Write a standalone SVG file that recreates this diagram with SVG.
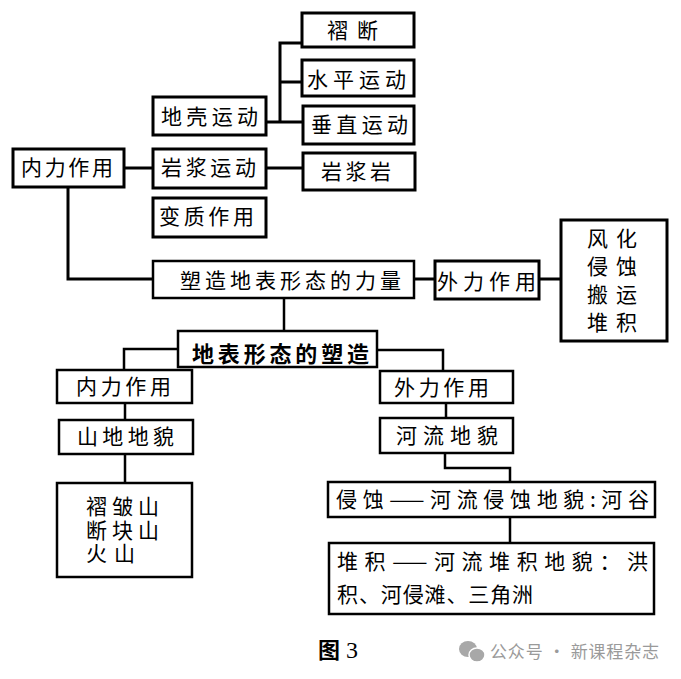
<svg xmlns="http://www.w3.org/2000/svg" width="681" height="679" viewBox="0 0 681 679">
<style>
.b{fill:#fff;stroke:#000;stroke-width:3}
.bt{fill:#fff;stroke:#000;stroke-width:2.5}
.c{fill:none;stroke:#000;stroke-width:3}
.ct{fill:none;stroke:#000;stroke-width:2.5}
text{font-family:"Noto Sans CJK SC","Noto Sans CJK JP",sans-serif;font-size:21px;fill:#000}
.big{font-size:22px;font-weight:bold}
.wm{font-size:17px;fill:#9a9a9a}
</style>
<rect width="681" height="679" fill="#fff"/>
<g id="connectors">
<path class="c" d="M124 168H153M266 168H303"/>
<path class="c" d="M266 122H303M280 122V43H302M280 82H302"/>
<path class="c" d="M68 187V279H153"/>
<path class="c" d="M414 279H435M539 279H561"/>
<path class="ct" d="M284 298V331"/>
<path class="ct" d="M178 349H124V370"/>
<path class="ct" d="M377 350H443V371"/>
<path class="ct" d="M125 403V420M125 454V483"/>
<path class="ct" d="M446 403V418"/>
<path class="ct" d="M445 453V468H510V482"/>
<path class="ct" d="M510 517V543"/>
</g>
<g id="n-zheduan"><rect class="b" x="302" y="13" width="112" height="34"/><text x="327" y="38" textLength="51">褶断</text></g>
<g id="n-shuiping"><rect class="b" x="302" y="60" width="112" height="36"/><text x="307" y="87" textLength="99">水平运动</text></g>
<g id="n-chuizhi"><rect class="b" x="303" y="106" width="111" height="38"/><text x="311" y="132" textLength="97">垂直运动</text></g>
<g id="n-diqiao"><rect class="b" x="153" y="97" width="113" height="38"/><text x="161" y="124" textLength="97">地壳运动</text></g>
<g id="n-neili1"><rect class="b" x="13" y="149" width="111" height="38"/><text x="21" y="175" textLength="92">内力作用</text></g>
<g id="n-yanjiang"><rect class="b" x="153" y="149" width="113" height="39"/><text x="161" y="175" textLength="95">岩浆运动</text></g>
<g id="n-yanjiangyan"><rect class="b" x="303" y="153" width="112" height="37"/><text x="321" y="179" textLength="70">岩浆岩</text></g>
<g id="n-bianzhi"><rect class="b" x="153" y="198" width="113" height="39"/><text x="159" y="224" textLength="95">变质作用</text></g>
<g id="n-liliang"><rect class="bt" x="153" y="261" width="261" height="37"/><text x="180" y="288" textLength="221">塑造地表形态的力量</text></g>
<g id="n-waili1"><rect class="b" x="435" y="261" width="104" height="38"/><text x="437" y="289" textLength="99">外力作用</text></g>
<g id="n-fenghua"><rect class="b" x="561" y="220" width="106" height="121"/>
<text x="587" y="246" textLength="50">风化</text>
<text x="587" y="274" textLength="50">侵蚀</text>
<text x="587" y="302" textLength="50">搬运</text>
<text x="587" y="330" textLength="50">堆积</text></g>
<g id="n-suzao"><rect class="bt" x="178" y="331" width="199" height="36"/><text class="big" x="192" y="362" textLength="177">地表形态的塑造</text></g>
<g id="n-neili2"><rect class="bt" x="57" y="370" width="135" height="33"/><text x="76" y="394" textLength="95">内力作用</text></g>
<g id="n-waili2"><rect class="bt" x="380" y="371" width="133" height="32"/><text x="394" y="395" textLength="95">外力作用</text></g>
<g id="n-shandi"><rect class="bt" x="59" y="420" width="134" height="34"/><text x="77" y="444" textLength="97">山地地貌</text></g>
<g id="n-heliu"><rect class="bt" x="380" y="418" width="133" height="35"/><text x="396" y="443" textLength="102">河流地貌</text></g>
<g id="n-shan"><rect class="bt" x="57" y="483" width="135" height="94"/>
<text x="86" y="514"><tspan x="86" textLength="73">褶皱山</tspan><tspan x="86" dy="24" textLength="73">断块山</tspan><tspan x="86" dy="23" textLength="49">火山</tspan></text></g>
<g id="n-qinshi"><rect class="bt" x="328" y="482" width="327" height="35"/><text x="336" y="507" textLength="313">侵蚀——河流侵蚀地貌:河谷</text></g>
<g id="n-duiji"><rect class="bt" x="329" y="543" width="325" height="71"/>
<text x="337" y="569" textLength="311">堆积——河流堆积地貌：洪</text>
<text x="337" y="602" textLength="196">积、河侵滩、三角洲</text></g>
<text x="318" y="658" style="font-size:22px;font-weight:bold">图<tspan style="font-family:'Liberation Serif',serif;font-weight:normal;font-size:24px"> 3</tspan></text>
<g id="watermark">
<ellipse cx="468" cy="649" rx="9" ry="8" fill="#a8a8a8"/>
<ellipse cx="477" cy="655" rx="8" ry="7" fill="#a8a8a8" stroke="#fff" stroke-width="1.5"/>
<text class="wm" x="490" y="658" textLength="169">公众号 · 新课程杂志</text>
</g>
</svg>
